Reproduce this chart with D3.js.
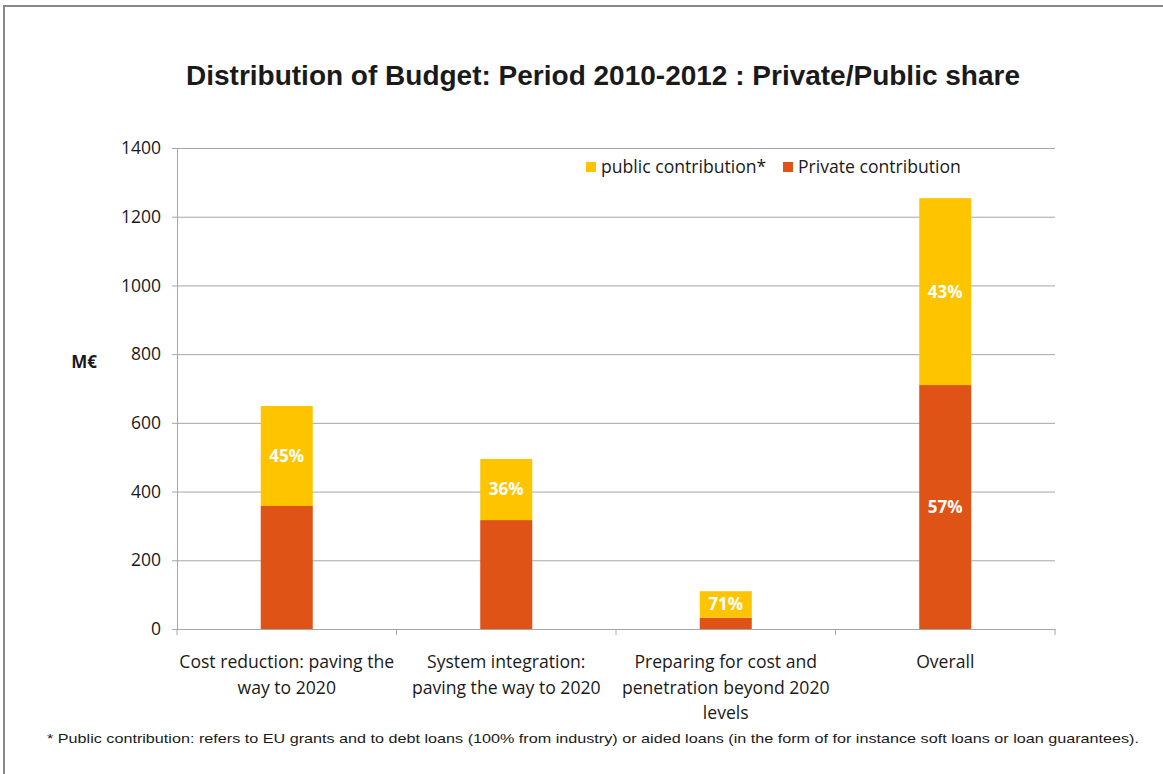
<!DOCTYPE html>
<html>
<head>
<meta charset="utf-8">
<script src="https://cdn.jsdelivr.net/npm/d3@7"></script>
<style>
  body { margin: 0; background: #fff; }
  text { fill: #1a1a1a; }
</style>
</head>
<body>
<div id="chart"></div>
<script>
// data
const categories = [
    ["Cost reduction: paving the", "way to 2020"],
    ["System integration:", "paving the way to 2020"],
    ["Preparing for cost and", "penetration beyond 2020", "levels"],
    ["Overall"]
];
const privateValues = [358, 317, 33, 710];
const publicValues = [291, 178, 77, 544];
const publicLabels = ["45%", "36%", "71%", "43%"];
const privateLabels = ["", "", "", "57%"];
const yTicks = [0, 200, 400, 600, 800, 1000, 1200, 1400];

const seriesNames = ["public contribution*", "Private contribution"];
const colors = { pub: "#fec400", priv: "#e05316" };

function drawSvg() {
    const W = 1163, H = 774;
    const margin = { top: 148, left: 177 },
        width = 878,
        height = 481;

    const root = d3.select("#chart")
        .append("svg")
        .attr("width", W)
        .attr("height", H);

    // frame
    root.append("path")
        .attr("d", "M4," + H + " L4,6 L" + W + ",6")
        .attr("fill", "none")
        .attr("stroke", "#888")
        .attr("stroke-width", 2);

    root.append("text")
        .attr("x", 603)
        .attr("y", 85)
        .attr("text-anchor", "middle")
        .attr("font-family", "Liberation Sans, Arial, sans-serif")
        .attr("font-weight", "bold")
        .attr("font-size", "28px")
        .text("Distribution of Budget: Period 2010-2012 : Private/Public share");

    const svg = root.append("g")
        .attr("transform", "translate(" + margin.left + "," + margin.top + ")");

    const y = d3.scaleLinear().domain([0, 1400]).range([height, 0]);
    const idx = categories.map((c, i) => i);
    const x = d3.scaleBand().domain(idx).range([0, width]).paddingInner(0.763).paddingOuter(0.3815);
    const xCat = d3.scaleBand().domain(idx).range([0, width]);

    // gridlines
    const grid = svg.append("g")
        .call(d3.axisLeft(y).tickValues(yTicks).tickSize(-width).tickFormat(""));
    grid.select(".domain").remove();
    grid.selectAll("line").attr("stroke", "#a6a6a6");

    // y axis
    const yAxis = svg.append("g")
        .call(d3.axisLeft(y).tickValues(yTicks).tickFormat(d3.format("d"))
            .tickSize(5).tickSizeOuter(0).tickPadding(11));
    yAxis.select(".domain").attr("stroke", "#a6a6a6");
    yAxis.selectAll("line").attr("stroke", "#a6a6a6");
    yAxis.selectAll("text")
        .attr("font-family", "Open Sans, sans-serif")
        .attr("font-size", "17.5px")
        .attr("fill", "#1a1a1a");

    root.append("text")
        .attr("x", 84)
        .attr("y", 368)
        .attr("text-anchor", "middle")
        .attr("font-family", "Open Sans, sans-serif")
        .attr("font-weight", "bold")
        .attr("font-size", "17px")
        .text("M€");

    // bars
    const bars = svg.selectAll(".bar")
        .data(idx)
        .enter()
        .append("g");

    bars.append("rect")
        .attr("x", i => x(i))
        .attr("y", i => y(privateValues[i]))
        .attr("width", x.bandwidth())
        .attr("height", i => height - y(privateValues[i]))
        .attr("fill", colors.priv);

    bars.append("rect")
        .attr("x", i => x(i))
        .attr("y", i => y(privateValues[i] + publicValues[i]))
        .attr("width", x.bandwidth())
        .attr("height", i => y(privateValues[i]) - y(privateValues[i] + publicValues[i]))
        .attr("fill", colors.pub);

    bars.append("text")
        .attr("x", i => x(i) + x.bandwidth() / 2)
        .attr("y", i => y(privateValues[i] + publicValues[i] / 2))
        .attr("dy", "0.35em")
        .attr("text-anchor", "middle")
        .attr("font-family", "Open Sans, sans-serif")
        .attr("font-weight", "bold")
        .attr("font-size", "17px")
        .style("fill", "#fff")
        .text(i => publicLabels[i]);

    bars.append("text")
        .attr("x", i => x(i) + x.bandwidth() / 2)
        .attr("y", i => y(privateValues[i] / 2))
        .attr("dy", "0.35em")
        .attr("text-anchor", "middle")
        .attr("font-family", "Open Sans, sans-serif")
        .attr("font-weight", "bold")
        .attr("font-size", "17px")
        .style("fill", "#fff")
        .text(i => privateLabels[i]);

    // x axis
    const xAxis = svg.append("g")
        .attr("transform", "translate(0," + height + ")")
        .call(d3.axisBottom(xCat).tickSize(0).tickFormat(""));
    xAxis.select(".domain").attr("stroke", "#a6a6a6");
    xAxis.selectAll(".tick").remove();
    xAxis.selectAll(".sep")
        .data(d3.range(idx.length + 1))
        .enter()
        .append("line")
        .attr("x1", i => i * xCat.step())
        .attr("x2", i => i * xCat.step())
        .attr("y1", 0)
        .attr("y2", 6)
        .attr("stroke", "#a6a6a6");

    const catLabels = svg.append("g").selectAll("text")
        .data(idx)
        .enter()
        .append("text")
        .attr("x", i => xCat(i) + xCat.bandwidth() / 2)
        .attr("y", height + 39)
        .attr("text-anchor", "middle")
        .attr("font-family", "Open Sans, sans-serif")
        .attr("font-size", "17.6px");
    catLabels.selectAll("tspan")
        .data(i => categories[i])
        .enter()
        .append("tspan")
        .attr("x", function () { return d3.select(this.parentNode).attr("x"); })
        .attr("dy", (d, j) => j === 0 ? 0 : 25.5)
        .text(d => d);

    // legend
    const legend = root.append("g");
    const legendX = [586, 783];
    const legendColors = [colors.pub, colors.priv];
    seriesNames.forEach((name, i) => {
        legend.append("rect")
            .attr("x", legendX[i])
            .attr("y", 162)
            .attr("width", 10)
            .attr("height", 10)
            .attr("fill", legendColors[i]);
        legend.append("text")
            .attr("x", legendX[i] + 15)
            .attr("y", 173)
            .attr("font-family", "Open Sans, sans-serif")
            .attr("font-size", "17.6px")
            .text(name);
    });

    // footnote
    root.append("text")
        .attr("x", 47)
        .attr("y", 743)
        .attr("font-family", "Liberation Sans, Arial, sans-serif")
        .attr("font-size", "13.5px")
        .attr("textLength", 1092)
        .attr("lengthAdjust", "spacingAndGlyphs")
        .text("* Public contribution: refers to EU grants and to debt loans (100% from industry) or aided loans (in the form of for instance soft loans or loan guarantees).");
}

drawSvg();
</script>
</body>
</html>
